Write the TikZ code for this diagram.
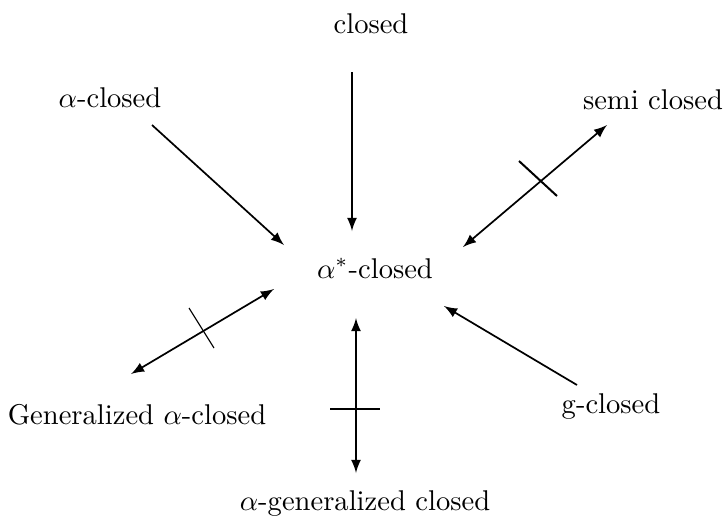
\documentclass[tikz,border=0pt]{standalone}
\usetikzlibrary{arrows}
\begin{document}
\begin{tikzpicture}[x=0.35pt,y=-0.35pt,
  lbl/.style={anchor=base,inner sep=0pt},
  arr/.style={line width=0.6pt,-latex},
  darr/.style={line width=0.6pt,latex-latex},
  crossmark/.style={line width=0.5pt}]
\useasboundingbox (0,0) rectangle (724,518);
% labels
\node[lbl] (cl) at (371,33) {closed};
\node[lbl] (acl) at (110,107) {$\alpha$-closed};
\node[lbl] (scl) at (653,109) {semi closed};
\node[lbl] (ast) at (375,278) {$\alpha^{*}$-closed};
\node[lbl] (gac) at (137,424) {Generalized $\alpha$-closed};
\node[lbl] (gcl) at (611,413) {g-closed};
\node[lbl] (agc) at (365,510) {$\alpha$-generalized closed};
% arrow end points
\coordinate (clA) at (352,72);   \coordinate (clB) at (352,231);
\coordinate (aclA) at (152,125); \coordinate (aclB) at (284,245);
\coordinate (sclA) at (607,125); \coordinate (sclB) at (463,247);
\coordinate (gacA) at (131,374); \coordinate (gacB) at (274,289);
\coordinate (agcA) at (356,473); \coordinate (agcB) at (356,318);
\coordinate (gclA) at (577,385); \coordinate (gclB) at (444,306);
% cross marks
\coordinate (x1a) at (519,161); \coordinate (x1b) at (557,196);
\coordinate (x2a) at (189,308); \coordinate (x2b) at (214,348);
\coordinate (x3a) at (330,409); \coordinate (x3b) at (380,409);
% connectors
\draw[arr] (clA) -- (clB);
\draw[arr] (aclA) -- (aclB);
\draw[darr] (sclB) -- (sclA);
\draw[darr] (gacA) -- (gacB);
\draw[darr] (agcA) -- (agcB);
\draw[arr] (gclA) -- (gclB);
\draw[crossmark,line width=0.7pt] (x1a) -- (x1b);
\draw[crossmark,line width=0.4pt] (x2a) -- (x2b);
\draw[crossmark] (x3a) -- (x3b);
\end{tikzpicture}
\end{document}
